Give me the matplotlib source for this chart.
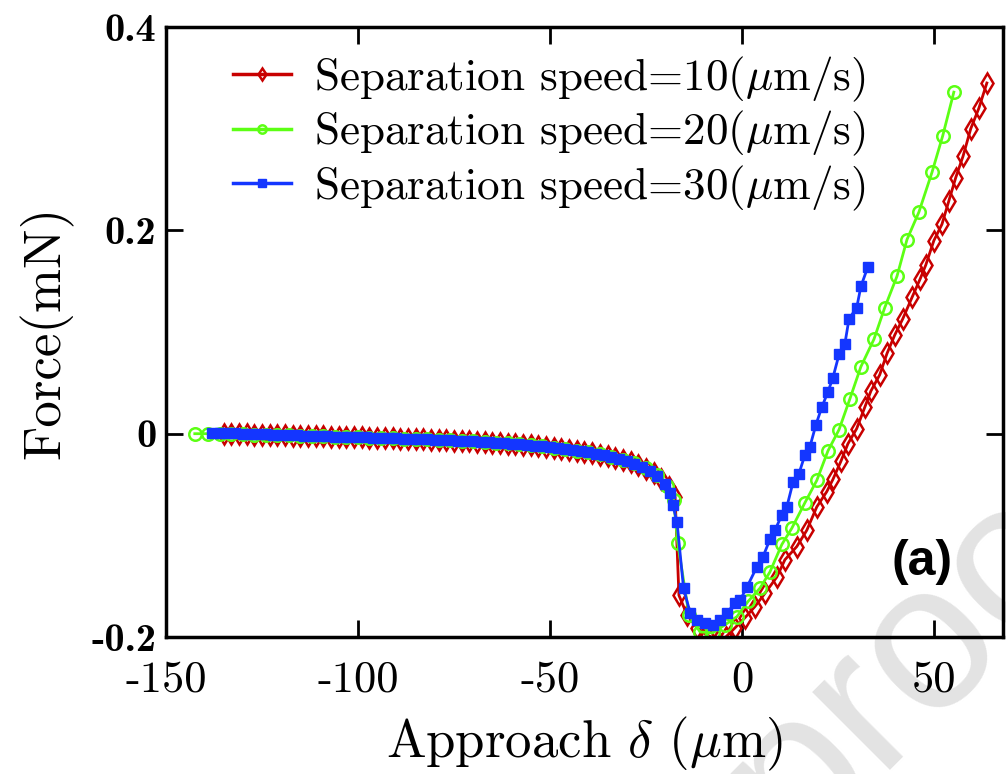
import matplotlib.pyplot as plt

# separation speed 10 um/s (red diamonds)
x10 = [-135, -133, -131, -129, -127, -125, -123, -121, -119, -117, -115, -113, -111, -109,
       -107, -105, -103, -101, -99, -97, -95, -93, -91, -89, -87, -85, -83, -81, -79, -77,
       -75, -73, -71, -69, -67, -65, -63, -61, -59, -57, -55, -53, -51, -49, -47, -45, -43,
       -41, -39, -37, -35, -33, -31, -29, -27, -25, -23, -21, -19, -17.4, -16.4, -14.3,
       -11.7, -9.1, -6.2, -4.2, -1.8, 0.8, 3.4, 6.0, 9.1, 11.2, 14.3, 16.9, 19.5, 22.1,
       23.7, 25.8, 27.6, 29.9, 32.0, 33.6, 35.9, 37.8, 39.8, 41.9, 44.3, 46.4, 47.9, 50.0,
       52.1, 53.9, 55.7, 57.6, 59.6, 61.7, 63.8]
f10 = [0.000, 0.000, 0.000, 0.000, -0.001, -0.001, -0.001, -0.001, -0.001, -0.002, -0.002,
       -0.002, -0.002, -0.002, -0.003, -0.003, -0.003, -0.003, -0.003, -0.004, -0.004, -0.004,
       -0.004, -0.005, -0.005, -0.005, -0.005, -0.006, -0.006, -0.006, -0.007, -0.007, -0.007,
       -0.008, -0.008, -0.009, -0.009, -0.010, -0.010, -0.011, -0.011, -0.012, -0.013, -0.014,
       -0.015, -0.016, -0.017, -0.018, -0.019, -0.021, -0.022, -0.024, -0.026, -0.028, -0.031,
       -0.035, -0.039, -0.045, -0.052, -0.062, -0.159, -0.178, -0.191, -0.198, -0.203, -0.200,
       -0.191, -0.181, -0.170, -0.157, -0.141, -0.124, -0.111, -0.095, -0.072, -0.057, -0.045,
       -0.027, -0.010, 0.005, 0.026, 0.042, 0.058, 0.079, 0.097, 0.113, 0.134, 0.152, 0.166,
       0.190, 0.206, 0.229, 0.252, 0.273, 0.300, 0.320, 0.345]

# separation speed 20 um/s (green circles)
x20 = [-142.5, -139, -136, -133, -130, -127, -124, -121, -118, -115, -112, -109, -106, -103,
       -100, -97, -94, -91, -88, -85, -82, -79, -76, -73, -70, -67, -64, -61, -58, -55, -52,
       -49, -46, -43, -40, -37, -34, -31, -28, -25, -22, -19.5, -17.8, -16.7, -13.8, -10.9,
       -7.6, -4.4, -1.3, 1.6, 4.7, 7.3, 10.4, 13.0, 16.4, 19.5, 22.4, 25.3, 28.1, 31.0, 34.4,
       37.2, 40.4, 43.0, 46.1, 49.5, 52.3, 55.2]
f20 = [0.000, 0.000, 0.000, 0.000, 0.000, -0.001, -0.001, -0.001, -0.001, -0.002, -0.002,
       -0.002, -0.003, -0.003, -0.003, -0.004, -0.004, -0.004, -0.005, -0.005, -0.005, -0.006,
       -0.006, -0.007, -0.007, -0.008, -0.009, -0.009, -0.010, -0.011, -0.012, -0.014, -0.015,
       -0.017, -0.018, -0.020, -0.023, -0.026, -0.029, -0.034, -0.041, -0.051, -0.065, -0.108,
       -0.178, -0.195, -0.196, -0.188, -0.180, -0.165, -0.152, -0.136, -0.109, -0.093, -0.068,
       -0.046, -0.017, 0.004, 0.034, 0.066, 0.093, 0.124, 0.155, 0.191, 0.218, 0.257, 0.293,
       0.336]

# separation speed 30 um/s (blue squares)
x30 = [-138, -136, -134, -132, -130, -128, -126, -124, -122, -120, -118, -116, -114, -112,
       -110, -108, -106, -104, -102, -100, -98, -96, -94, -92, -90, -88, -86, -84, -82, -80,
       -78, -76, -74, -72, -70, -68, -66, -64, -62, -60, -58, -56, -54, -52, -50, -48, -46,
       -44, -42, -40, -38, -36, -34, -32, -30, -28, -26, -24, -22, -20, -18.8, -18.0, -16.9,
       -15.2, -13.5, -11.7, -9.6, -7.6, -5.7, -3.9, -1.8, -0.5, 1.3, 3.9, 5.5, 7.3, 8.6,
       10.4, 11.7, 13.3, 14.8, 16.4, 17.7, 19.3, 20.8, 22.4, 23.7, 25.3, 26.8, 27.9, 29.9,
       31.0, 32.8]
f30 = [0.001, 0.001, 0.001, 0.001, 0.000, 0.000, 0.000, 0.000, -0.001, -0.001, -0.001,
       -0.001, -0.002, -0.002, -0.002, -0.002, -0.003, -0.003, -0.003, -0.003, -0.003, -0.004,
       -0.004, -0.004, -0.004, -0.005, -0.005, -0.005, -0.005, -0.006, -0.006, -0.006, -0.007,
       -0.007, -0.007, -0.008, -0.008, -0.009, -0.009, -0.010, -0.010, -0.011, -0.012, -0.012,
       -0.013, -0.014, -0.015, -0.016, -0.017, -0.018, -0.020, -0.021, -0.023, -0.025, -0.027,
       -0.030, -0.033, -0.037, -0.042, -0.049, -0.058, -0.070, -0.087, -0.152, -0.176, -0.183,
       -0.186, -0.188, -0.183, -0.176, -0.167, -0.164, -0.151, -0.131, -0.121, -0.104, -0.095,
       -0.080, -0.072, -0.048, -0.040, -0.021, -0.013, 0.009, 0.026, 0.041, 0.055, 0.078,
       0.088, 0.113, 0.124, 0.145, 0.164]

xticks = [-150, -100, -50, 0, 50]
yticks = [-0.2, 0, 0.2, 0.4]

plt.rcParams['font.family'] = 'cmr10'
plt.rcParams['mathtext.fontset'] = 'cm'
plt.rcParams['axes.unicode_minus'] = False
plt.rcParams['axes.formatter.use_mathtext'] = True

fig, ax = plt.subplots(figsize=(10.06, 7.74), dpi=100)
fig.subplots_adjust(left=0.165, right=0.997, bottom=0.177, top=0.965)
ax.patch.set_alpha(0)

# watermark behind the axes
fig.text(0.79, -0.10, 'proof', family='Liberation Sans', fontsize=150, color='#e3e3e3',
         rotation=45, rotation_mode='anchor', ha='left', va='baseline', zorder=-5)

ax.plot(x10, f10, '-d', color='#c80000', mfc='none', ms=10, mew=1.8, lw=2,
        label=r'Separation speed=10($\mu$m/s)')
ax.plot(x20, f20, '-o', color='#5cff14', mfc='none', ms=9, mew=1.8, lw=2,
        label=r'Separation speed=20($\mu$m/s)')
ax.plot(x30, f30, '-s', color='#1436ff', ms=6.5, lw=2,
        label=r'Separation speed=30($\mu$m/s)')

ax.set_xlim(-150, 68)
ax.set_ylim(-0.2, 0.4)
ax.set_xticks(xticks)
ax.set_xticklabels([str(t) for t in xticks], fontsize=32)
ax.set_yticks(yticks)
ax.set_yticklabels(['-0.2', '0', '0.2', '0.4'], family='cmb10', fontsize=29)
ax.tick_params(direction='in', top=True, right=True, length=12, width=2)
ax.tick_params(axis='x', pad=17)
ax.tick_params(axis='y', pad=7)
for s in ax.spines.values():
    s.set_linewidth(2.5)

ax.set_xlabel(r'Approach $\delta$ ($\mu$m)', fontsize=38, labelpad=10)
ax.set_ylabel('Force(mN)', fontsize=38, labelpad=13)

leg = ax.legend(loc='upper left', bbox_to_anchor=(0.058, 0.985), frameon=False, fontsize=32.5,
                handlelength=1.3, handletextpad=0.5, labelspacing=0.12, borderaxespad=0)
for h in leg.legend_handles:
    h.set_markersize(6)
    h.set_linewidth(2.5)

ax.text(0.903, 0.123, '(a)', transform=ax.transAxes, family='Liberation Sans',
        fontweight='bold', fontsize=36, ha='center', va='center')

fig.savefig('out.png', dpi=100)
